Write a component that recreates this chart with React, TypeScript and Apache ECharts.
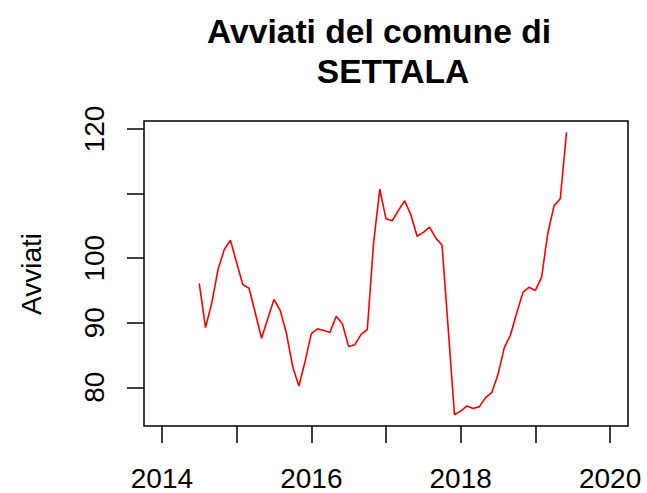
import React, { useEffect, useRef } from "react";
import * as echarts from "echarts";

// Monthly series starting July 2014
const startYear = 2014;
const startMonth = 7;
const values: number[] = [
  96.1, 89.25, 93.0, 98.2, 101.3, 102.8, 99.3, 95.9, 95.35, 91.5, 87.6, 90.6,
  93.6, 91.9, 88.4, 83.2, 80.2, 84.0, 88.3, 89.05, 88.8, 88.5, 91.0, 89.8,
  86.3, 86.6, 88.2, 88.95, 102.3, 110.7, 106.1, 105.8, 107.4, 108.9, 106.7, 103.4,
  104.0, 104.8, 103.1, 102.05, 89.0, 75.75, 76.3, 77.1, 76.7, 77.0, 78.4, 79.2,
  82.0, 86.1, 88.1, 91.5, 94.7, 95.5, 95.0, 97.05, 103.9, 108.1, 109.2, 119.5,
];
const xTicks = [2014, 2015, 2016, 2017, 2018, 2019, 2020];
const xLabels = [2014, 2016, 2018, 2020];
const yTicks = [80, 90, 100, 110, 120];
const yLabels = [80, 90, 100, 120];
const titleLine1 = "Avviati del comune di";
const titleLine2 = "SETTALA";
const yName = "Avviati";

const FONT = "'Liberation Sans', Arial, Helvetica, sans-serif";

export default function App() {
  const ref = useRef<HTMLDivElement>(null);
  useEffect(() => {
    if (!ref.current) return;
    const chart = echarts.init(ref.current, null, { renderer: "svg" });
    const data = values.map((v, i) => [startYear + (startMonth - 1 + i) / 12, v]);
    chart.setOption({
      animation: false,
      backgroundColor: "#ffffff",
      textStyle: { fontFamily: FONT },
      grid: {
        left: 144,
        right: 19,
        top: 121,
        bottom: 67,
        show: true,
        borderColor: "#000",
        borderWidth: 1.5,
        containLabel: false,
      },
      xAxis: {
        type: "value",
        min: 2013.76,
        max: 2020.24,
        splitLine: { show: false },
        axisLine: { show: false },
        axisTick: {
          show: true,
          inside: false,
          length: 17,
          customValues: xTicks,
          lineStyle: { color: "#000", width: 1.5 },
        },
        axisLabel: {
          show: true,
          customValues: xLabels,
          margin: 38,
          fontSize: 28,
          color: "#000",
          fontFamily: FONT,
          formatter: (v: number) => String(v),
        },
      },
      yAxis: {
        type: "value",
        min: 74.0,
        max: 121.25,
        splitLine: { show: false },
        axisLine: { show: false },
        axisTick: {
          show: true,
          inside: false,
          length: 17,
          customValues: yTicks,
          lineStyle: { color: "#000", width: 1.5 },
        },
        axisLabel: {
          show: true,
          customValues: yLabels,
          rotate: 90,
          margin: 36,
          fontSize: 28,
          color: "#000",
          fontFamily: FONT,
          formatter: (v: number) => String(v),
        },
      },
      graphic: [
        {
          type: "text",
          x: 379,
          y: 31,
          style: {
            text: titleLine1,
            fontSize: 33.6,
            fontWeight: "bold",
            fontFamily: FONT,
            fill: "#000",
            textAlign: "center",
            textVerticalAlign: "middle",
          },
        },
        {
          type: "text",
          x: 393,
          y: 71,
          style: {
            text: titleLine2,
            fontSize: 33.6,
            fontWeight: "bold",
            fontFamily: FONT,
            fill: "#000",
            textAlign: "center",
            textVerticalAlign: "middle",
          },
        },
        {
          type: "text",
          x: 31,
          y: 274,
          rotation: Math.PI / 2,
          style: {
            text: yName,
            fontSize: 28,
            fontFamily: FONT,
            fill: "#000",
            textAlign: "center",
            textVerticalAlign: "middle",
          },
        },
      ],
      series: [
        {
          type: "line",
          data,
          showSymbol: false,
          symbol: "none",
          lineStyle: { color: "#ff0000", width: 1.6 },
          itemStyle: { color: "#ff0000" },
        },
      ],
    });
    return () => chart.dispose();
  }, []);
  return (
    <div
      ref={ref}
      style={{ position: "fixed", left: 0, top: 0, width: 647, height: 493 }}
    />
  );
}
